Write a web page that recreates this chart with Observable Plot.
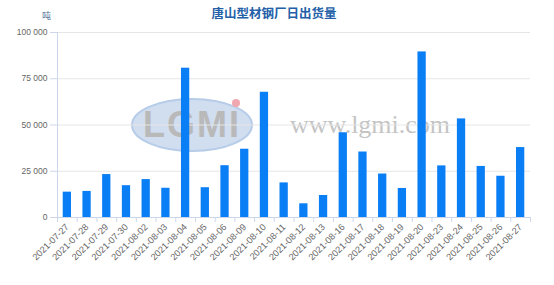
<!DOCTYPE html>
<html>
<head>
<meta charset="utf-8">
<script src="https://cdn.jsdelivr.net/npm/d3@7"></script>
<script src="https://cdn.jsdelivr.net/npm/@observablehq/plot@0.6"></script>
<style>
  html, body { margin: 0; padding: 0; background: #fff; }
  #wrap { position: relative; width: 554px; height: 285px; overflow: hidden; font-family: "Liberation Sans", Arial, sans-serif; }
  #title { position: absolute; left: 0; width: 548px; top: 3px; text-align: center; font: bold 12.5px "Noto Sans CJK SC", sans-serif; color: #2360a8; }
  #unit { position: absolute; left: 42px; top: 9px; font: 9px "Noto Sans CJK SC", sans-serif; color: #5577a0; }
  #wm { position: absolute; left: 0; top: 0; width: 554px; height: 285px; pointer-events: none; }
  #chart { position: absolute; left: 0; top: 0; }
</style>
</head>
<body>
<div id="wrap">
  <svg id="wm" width="554" height="285">
    <ellipse cx="192" cy="125" rx="60" ry="26" fill="#c9d9ee" stroke="#aac4e4" stroke-width="2" opacity="0.85"/>
    <text x="192" y="137" text-anchor="middle" font-family="Liberation Sans, Arial" font-weight="bold" font-size="36" fill="#b9b9b9" letter-spacing="2">LGMI</text>
    <circle cx="236" cy="103" r="4" fill="#f0a8b0"/>
    <text x="290" y="133" font-family="Liberation Serif, serif" font-size="26" fill="#c4c4c4">www.lgmi.com</text>
  </svg>
  <div id="chart"></div>
  <div id="title">唐山型材钢厂日出货量</div>
  <div id="unit">吨</div>
</div>
<script>
const dates = ["2021-07-27","2021-07-28","2021-07-29","2021-07-30","2021-08-02","2021-08-03","2021-08-04","2021-08-05","2021-08-06","2021-08-09","2021-08-10","2021-08-11","2021-08-12","2021-08-13","2021-08-16","2021-08-17","2021-08-18","2021-08-19","2021-08-20","2021-08-23","2021-08-24","2021-08-25","2021-08-26","2021-08-27"];
const shipments = [13700, 14100, 23200, 17200, 20500, 15800, 80700, 16100, 28000, 36900, 67700, 18700, 7400, 11900, 45800, 35400, 23500, 15700, 89500, 27900, 53300, 27600, 22300, 37800];
const yTicks = [0, 25000, 50000, 75000, 100000];

const data = dates.map((d, i) => ({date: d, value: shipments[i]}));

const W = 554, H = 285, mL = 57, mR = 24, mT = 32, mB = 68;
const step = (W - mL - mR) / dates.length;
const fmt = v => d3.format(",")(v).replace(/,/g, " ");
const axisColor = "#ccd6eb";

const chart = Plot.plot({
  width: W,
  height: H,
  marginLeft: mL,
  marginRight: mR,
  marginTop: mT,
  marginBottom: mB,
  style: {background: "transparent", fontFamily: "Liberation Sans, Arial, sans-serif", fontSize: "8.5px", color: "#666"},
  x: {domain: dates, paddingInner: 0.58, paddingOuter: 0.29, align: 0.5, round: false, label: null},
  y: {domain: [0, 100000], label: null},
  marks: [
    Plot.gridY(yTicks, {stroke: "#e6e6e6", strokeOpacity: 1}),
    Plot.axisY(yTicks, {tickFormat: fmt, tickSize: 7, tickPadding: 3, stroke: axisColor, fill: "#666", label: null}),
    Plot.ruleX([dates[0]], {dx: -step / 2, y1: 0, y2: 100000, stroke: axisColor}),
    Plot.barY(data, {x: "date", y: "value", fill: "#0a7ef5"}),
    Plot.ruleY([0], {stroke: axisColor}),
    Plot.axisX({tickFormat: null, tickSize: 5, dx: -step / 2, stroke: axisColor, label: null}),
    Plot.ruleX([dates[dates.length - 1]], {dx: step / 2, y1: 0, y2: 0, insetBottom: -5, stroke: axisColor}),
    Plot.axisX({tickSize: 0, tickPadding: 8, tickRotate: -45, fill: "#666", fontSize: 9.2, label: null})
  ]
});
document.getElementById("chart").appendChild(chart);
</script>
</body>
</html>
